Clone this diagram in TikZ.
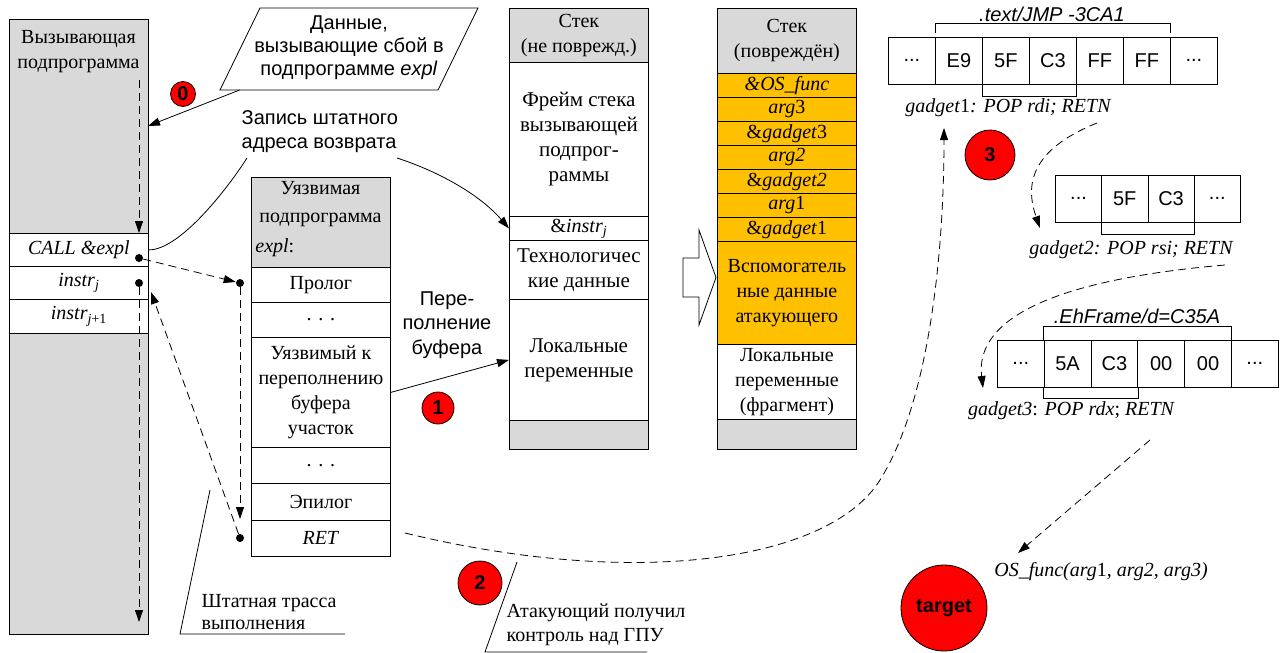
\documentclass[tikz,border=0pt]{standalone}
\usepackage{fontspec}
\setmainfont{Liberation Serif}
\setsansfont{Liberation Sans}
\usetikzlibrary{arrows.meta,calc}
\definecolor{panelgray}{RGB}{217,217,217}
\definecolor{payload}{RGB}{255,192,0}
\newcommand\txtR{\fontsize{20}{25}\selectfont}
\newcommand\txtRb{\fontsize{21}{25}\selectfont}
\newcommand\txtS{\fontsize{20}{23}\selectfont\sffamily}
\newcommand\bytegap{...}

\begin{document}
\begin{tikzpicture}[x=1pt,y=-1pt,
  line width=0.8pt,
  >={Triangle[length=12pt,width=8pt]},
  cell/.style={draw, inner sep=0pt, anchor=north west, align=center, font=\txtR},
  stk/.style={cell, minimum width=139pt},
  byte/.style={draw, inner sep=0pt, anchor=north west, font=\txtS, minimum height=47pt},
  redmark/.style={circle, draw, fill=red, inner sep=0pt, font=\fontsize{20}{20}\selectfont\sffamily\bfseries},
  flow/.style={dash pattern=on 8pt off 5pt},
  dot/.style={circle, fill, inner sep=0pt, minimum size=8pt},
]
\useasboundingbox (0,0) rectangle (1283,653);

% ---------- calling routine ----------
\node[cell, fill=panelgray, minimum width=139pt, minimum height=615pt] (caller) at (9,19) {};
\node[font=\txtR, align=center] (callerT) at (78.5,52) {Вызывающая\\подпрограмма};
\node[cell, fill=white, minimum width=139pt, minimum height=33pt] (call) at (9,233) {\textit{CALL \&expl}};
\node[cell, fill=white, minimum width=139pt, minimum height=33pt] (instrj) at (9,266) {\textit{instr}\textsubscript{\textit{j}}};
\node[cell, fill=white, minimum width=139pt, minimum height=34pt] (instrj1) at (9,299) {\textit{instr}\textsubscript{\textit{j}+1}};

% ---------- vulnerable routine ----------
\node[cell, fill=panelgray, minimum width=139pt, minimum height=90pt] (vhdr) at (251,177) {};
\node[font=\fontsize{20}{28}\selectfont, align=center] (vhdrT) at (320.5,204) {Уязвимая\\подпрограмма};
\node[font=\txtR, anchor=west, inner sep=0pt] (vhdrE) at (255,248) {\textit{expl}:};
\node[cell, minimum width=139pt, minimum height=35pt] (prolog) at (251,267) {Пролог};
\node[cell, minimum width=139pt, minimum height=35pt] (gapA) at (251,302) {. . .};
\node[cell, minimum width=139pt, minimum height=110pt] (vuln) at (251,337) {Уязвимый к\\переполнению\\буфера\\участок};
\node[cell, minimum width=139pt, minimum height=36pt] (gapB) at (251,447) {. . .};
\node[cell, minimum width=139pt, minimum height=37pt] (epi) at (251,483) {Эпилог};
\node[cell, minimum width=139pt, minimum height=36pt] (ret) at (251,520) {\textit{RET}};

% ---------- intact stack ----------
\node[stk, fill=panelgray, minimum height=54pt] (s1hdr) at (509,8) {Стек\\(не поврежд.)};
\node[stk, font=\txtRb, minimum height=154pt] (s1frame) at (509,62) {Фрейм стека\\вызывающей\\подпрог-\\раммы};
\node[stk, minimum height=24pt] (s1ret) at (509,216) {\&\textit{instr}\textsubscript{\textit{j}}};
\node[stk, font=\txtRb, minimum height=59pt] (s1tech) at (509,240) {Технологичес\\кие данные};
\node[stk, font=\txtRb, minimum height=121pt] (s1loc) at (509,299) {Локальные\\переменные};
\node[stk, fill=panelgray, minimum height=29pt] (s1bot) at (509,420) {};

% ---------- corrupted stack ----------
\node[stk, fill=panelgray, minimum height=65pt] (s2hdr) at (717,8) {Стек\\(повреждён)};
\node[stk, fill=payload, minimum height=24pt] (s2os) at (717,73) {\textit{\&OS\_func}};
\node[stk, fill=payload, minimum height=24pt] (s2a3) at (717,97) {\textit{arg}3};
\node[stk, fill=payload, minimum height=24pt] (s2g3) at (717,121) {\&\textit{gadget}3};
\node[stk, fill=payload, minimum height=24pt] (s2a2) at (717,145) {\textit{arg2}};
\node[stk, fill=payload, minimum height=24pt] (s2g2) at (717,169) {\&\textit{gadget2}};
\node[stk, fill=payload, minimum height=24pt] (s2a1) at (717,193) {\textit{arg}1};
\node[stk, fill=payload, minimum height=24pt] (s2g1) at (717,217) {\&\textit{gadget}1};
\node[stk, fill=payload, minimum height=103pt] (s2aux) at (717,241) {Вспомогатель\\ные данные\\атакующего};
\node[stk, minimum height=75pt] (s2loc) at (717,344) {Локальные\\переменные\\(фрагмент)};
\node[stk, fill=panelgray, minimum height=30pt] (s2bot) at (717,419) {};

% ---------- transition arrow ----------
\draw[fill=white] (683,258) -- (699,258) -- (699,230) -- (716,277.5) -- (699,325) -- (699,297) -- (683,297) -- cycle;

% ---------- code bytes ----------
\foreach \t [count=\i from 0] in {\bytegap,E9,5F,C3,FF,FF,\bytegap}
  \node[byte, minimum width=47pt] (a\i) at ({888+47*\i},37) {\t};
\foreach \t [count=\i from 0] in {\bytegap,5F,C3,\bytegap}
  \node[byte, minimum width=46.25pt] (b\i) at ({1055+46.25*\i},175) {\t};
\foreach \t [count=\i from 0] in {\bytegap,5A,C3,00,00,\bytegap}
  \node[byte, minimum width=46.8pt] (c\i) at ({997+46.8*\i},340) {\t};

% brackets over byte ranges
\draw ($(a1.north west)+(0,-4)$) -- ($(a1.north west)+(0,-14)$) -| ($(a6.north west)+(0,-4)$);
\draw (a2.south west) -- ($(a2.south west)+(0,12)$) -| (a3.south east);
\draw (b1.south west) -- ($(b1.south west)+(0,12)$) -| (b2.south east);
\draw (c1.north west) -- ($(c1.north west)+(0,-14)$) -| (c5.north west);
\draw (c1.south west) -- ($(c1.south west)+(0,11)$) -| (c2.south east);

\node[font=\txtS\itshape] (lblA) at (1052,14) {.text/JMP -3CA1};
\node[font=\txtS\itshape] (lblC) at (1137,316) {.EhFrame/d=C35A};

\node[font=\txtR\itshape] (g1) at (1008,108) {gadget\textup{1}: POP rdi; RETN};
\node[font=\txtR\itshape] (g2) at (1131,250) {gadget2: POP rsi; RETN};
\node[font=\txtR\itshape] (g3) at (1071,411) {gadget3\textup{:} POP rdx\textup{;} RETN};
\node[font=\txtR\itshape] (osf) at (1101,572) {OS\_func(arg\textup{1}, arg2, arg3)};

% ---------- input data ----------
\coordinate (pBL) at (220,90);
\coordinate (pTL) at (260,8);
\coordinate (pTR) at (478,8);
\coordinate (pBR) at (438,90);
\draw[fill=white] (pBL) -- (pTL) -- (pTR) -- (pBR) -- cycle;
\node[font=\txtS, align=center] (pText) at (349,48) {Данные,\\вызывающие сбой в\\подпрограмме \textit{expl}};
\coordinate (pOut) at ($(pBL)!0.09!(pBR)$);
\coordinate (dataIn) at (148,126);
\draw[->] (pOut) -- (dataIn);

% ---------- return address label ----------
\node[font=\fontsize{20}{24}\selectfont\sffamily, align=left, anchor=west] (zap) at (238,132) {Запись штатного\\адреса возврата};
\coordinate (zapA) at (247,158);
\coordinate (zapB) at (397,158);
\draw (zapA) .. controls (228,188) and (180,250) .. (call.east);
\draw[->] (zapB) .. controls (440,172) and (480,195) .. (s1ret.west);

% ---------- overflow ----------
\node[font=\fontsize{20}{24.5}\selectfont\sffamily, align=center] (ovf) at (447,325) {Пере-\\полнение\\буфера};
\draw[->] (vuln.east) -- (s1loc.west);

% ---------- normal execution trace ----------
\coordinate (trTop) at (139,80);
\coordinate (trCall) at (139,233);
\coordinate (trEnd) at (139,622);
\coordinate (trRet) at (240,519);
\coordinate (backTip) at (151,292);
\node[dot] (dCall) at (139,258) {};
\node[dot] (dInstr) at (139,283) {};
\node[dot] (dPro) at (240,283) {};
\node[dot] (dRet) at (240,538) {};
\draw[flow,->] (trTop) -- (trCall);
\draw[flow,->] (dCall) -- (dPro);
\draw[flow,->] (dPro) -- (trRet);
\draw[flow,->] (dRet) -- (backTip);
\draw[flow,->] (dInstr) -- (trEnd);

% ---------- hijacked flow ----------
\coordinate (retOut) at (405,533);
\coordinate (g1in) at (944,128);
\draw[flow,->] (retOut) .. controls (640,590) and (830,560) .. (880,480) .. controls (930,400) and (944,250) .. (g1in);
\coordinate (g1out) at (1097,123);
\coordinate (g2in) at (1040,228);
\draw[flow,->] (g1out) .. controls (1030,150) and (1025,185) .. (g2in);
\coordinate (g2out) at (1225,265);
\coordinate (g3in) at (983,388);
\draw[flow,->] (g2out) .. controls (1050,280) and (975,320) .. (g3in);
\coordinate (g3out) at (1150,440);
\coordinate (osfin) at (1018,553);
\draw[flow,->] (g3out) -- (osfin);

% ---------- callouts ----------
\coordinate (nA) at (210,490);
\coordinate (nB) at (180,634);
\coordinate (nC) at (345,634);
\draw (nA) -- (nB) -- (nC);
\node[font=\fontsize{20}{22}\selectfont, align=left, anchor=west] (normTrace) at (198,612) {Штатная трасса\\выполнения};
\coordinate (kA) at (517,562);
\coordinate (kB) at (485,652);
\coordinate (kC) at (647,652);
\draw (kA) -- (kB) -- (kC);
\node[font=\fontsize{20}{24}\selectfont, align=left, anchor=west] (atkCtl) at (503,625) {Атакующий получил\\контроль над ГПУ};

% ---------- step markers ----------
\node[redmark, minimum size=25pt] (m0) at (183,94) {0};
\node[redmark, minimum size=32pt] (m1) at (438,408) {1};
\node[redmark, minimum size=44pt] (m2) at (480,583) {2};
\node[redmark, minimum size=50pt] (m3) at (990,155) {3};
\node[redmark, minimum size=86pt] (target) at (944,608) {target};
\end{tikzpicture}
\end{document}
